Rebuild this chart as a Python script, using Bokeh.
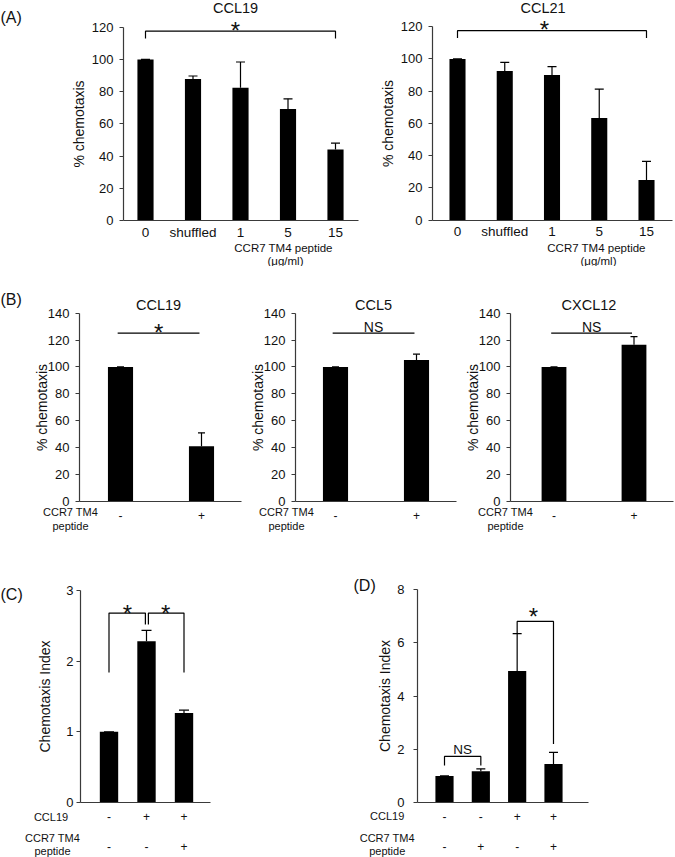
from bokeh.plotting import figure
from bokeh.layouts import column, row
from bokeh.models import (Range1d, FixedTicker, Whisker, TeeHead, ColumnDataSource,
                          Label, LinearAxis)
from bokeh.core.properties import value
from bokeh.embed import file_html
from bokeh.resources import INLINE

# ---------------- data ----------------
a_groups = ["0", "shuffled", "1", "5", "15"]
a_titles = ["CCL19", "CCL21"]
a_ccl19_vals = [100.0, 87.8, 82.4, 69.2, 44.1]
a_ccl19_errs = [0.0, 1.9, 16.0, 6.3, 3.9]
a_ccl21_vals = [100.0, 92.5, 90.0, 63.3, 24.8]
a_ccl21_errs = [0.0, 5.4, 5.2, 18.0, 11.6]
a_yticks = [0, 20, 40, 60, 80, 100, 120]
a_xtitle = ["CCR7 TM4 peptide", "(\u03bcg/ml)"]
a_sig_text = "*"
a_sig_top = 117.5
a_sig_drop = 113.0
a_sig_y = 121.7

b_groups = ["-", "+"]
b_titles = ["CCL19", "CCL5", "CXCL12"]
b_vals = [[100.0, 41.0], [100.0, 105.2], [100.0, 116.4]]
b_errs = [[0.0, 9.9], [0.0, 4.3], [0.0, 6.2]]
b_sig_text = ["*", "NS", "NS"]
b_sig_line = 125.1
b_sig_y = 130.0
b_yticks = [0, 20, 40, 60, 80, 100, 120, 140]

c_vals = [1.0, 2.28, 1.267]
c_errs = [0.0, 0.155, 0.04]
c_ccl19 = ["-", "+", "+"]
c_peptide = ["-", "-", "+"]
c_yticks = [0, 1, 2, 3]
c_sig_text = ["*", "*"]
c_sig_top = [2.68, 2.68]
c_sig_drop_left = [1.84, 2.52]
c_sig_drop_right = [2.52, 1.84]
c_sig_y = [2.76, 2.76]

d_vals = [1.0, 1.17, 4.94, 1.445]
d_errs = [0.0, 0.09, 1.4, 0.44]
d_ccl19 = ["-", "-", "+", "+"]
d_peptide = ["-", "+", "-", "+"]
d_yticks = [0, 2, 4, 6, 8]
d_sig_text = ["NS", "*"]
d_sig_top = [1.73, 6.8]
d_sig_drop_left = [1.39, 6.35]
d_sig_drop_right = [1.39, 2.2]
d_sig_y = [2.0, 7.22]

pct_label = "% chemotaxis"
ci_label = "Chemotaxis Index"
row_names = ["CCL19", "CCR7 TM4", "peptide"]

# ---------------- style ----------------
FONT = "Liberation Sans"
INK = "#111111"
AXIS = "#3a3a3a"


def to_dx(g, X):
    return 1 + (X - g["px1"]) / g["ppx"]


def to_dy(g, Y):
    return (g["py0"] - Y) / g["ppy"]


def make_panel(g, yticks, ytitle, lab_standoff, title_standoff, ylab_size):
    xr = (to_dx(g, g["ox"]), to_dx(g, g["ox"] + g["w"]))
    yr = (to_dy(g, g["oy"] + g["h"]), to_dy(g, g["oy"]))
    p = figure(width=g["w"], height=g["h"],
               x_range=Range1d(*xr), y_range=Range1d(*yr),
               output_backend="svg", toolbar_location=None,
               min_border_left=0, min_border_right=0,
               min_border_top=0, min_border_bottom=0)
    p.outline_line_color = None
    p.xgrid.grid_line_color = None
    p.ygrid.grid_line_color = None
    p.border_fill_color = "white"
    p.background_fill_color = "white"
    for ax in (p.xaxis[0], p.yaxis[0]):
        ax.axis_line_color = AXIS
        ax.axis_line_width = 1.2
        ax.major_tick_line_color = AXIS
        ax.minor_tick_line_color = None
        ax.major_label_text_font = FONT
        ax.major_label_text_color = INK
        ax.axis_label_text_font = FONT
        ax.axis_label_text_font_style = "normal"
        ax.axis_label_text_color = INK
    ya = p.yaxis[0]
    ya.fixed_location = to_dx(g, g["ax_l"])
    ya.ticker = FixedTicker(ticks=yticks)
    ya.bounds = (yticks[0], yticks[-1])
    ya.major_tick_out = 4
    ya.major_tick_in = 0
    ya.major_label_text_font_size = "13px"
    ya.major_label_standoff = lab_standoff
    ya.axis_label = ytitle
    ya.axis_label_text_font_size = ylab_size
    ya.axis_label_standoff = title_standoff
    xa = p.xaxis[0]
    xa.fixed_location = 0
    xa.bounds = (to_dx(g, g["ax_l"]), to_dx(g, g["ax_r"]))
    xa.major_tick_out = 0
    xa.major_tick_in = 0
    xa.major_tick_line_color = None
    return p


def set_x_labels(ax, labels, size, standoff):
    pos = list(range(1, len(labels) + 1))
    ax.ticker = FixedTicker(ticks=pos)
    ax.major_label_overrides = {i: t for i, t in zip(pos, labels)}
    ax.major_label_text_font_size = size
    ax.major_label_standoff = standoff


def second_row_axis(p, g, labels, standoff):
    ax = LinearAxis(axis_line_color=None, major_tick_line_color=None,
                    minor_tick_line_color=None, major_label_text_font=FONT,
                    major_label_text_color=INK, fixed_location=0,
                    bounds=(to_dx(g, g["ax_l"]), to_dx(g, g["ax_r"])))
    set_x_labels(ax, labels, "12px", standoff)
    p.add_layout(ax, "below")


def bars(p, vals, errs, width, cap):
    pos = list(range(1, len(vals) + 1))
    p.vbar(x=pos, top=vals, bottom=0, width=width, fill_color="black", line_color=None)
    src = ColumnDataSource(dict(base=pos, lower=vals,
                                upper=[v + e for v, e in zip(vals, errs)]))
    w = Whisker(base="base", lower="lower", upper="upper", source=src,
                upper_head=TeeHead(size=cap, line_color="black", line_width=1.2),
                lower_head=None, line_color="black", line_width=1.2, level="underlay")
    p.add_layout(w)


def bracket(p, x0, x1, top, d0, d1):
    p.line(x=[x0, x0, x1, x1], y=[d0, top, top, d1], line_color="black", line_width=1.2)


def sig_text(p, x, y, txt, size):
    if txt == "*":
        p.text(x=[x], y=[y], text=[txt], text_font=value(FONT), text_font_size="24px",
               text_align="center", text_baseline="middle", y_offset=6,
               text_color=INK)
    else:
        p.text(x=[x], y=[y], text=[txt], text_font=value(FONT), text_font_size=size,
               text_align="center", text_baseline="middle", text_color=INK)


def label(p, g, X, Y, txt, size, align="center"):
    p.add_layout(Label(x=to_dx(g, X), y=to_dy(g, Y), text=txt, text_font=FONT,
                       text_font_size=size, text_align=align, text_baseline="middle",
                       text_color=INK))


# ---------------- panel A ----------------
gA = [dict(ox=0, oy=0, w=365, h=266, px1=145, ppx=47.5, py0=220, ppy=1.611, ax_l=123, ax_r=358),
      dict(ox=365, oy=0, w=310, h=266, px1=457, ppx=47.25, py0=219.5, ppy=1.611, ax_l=432, ax_r=672)]
a_title_X = [235, 542.5]
a_xtitle_X = [283, 596]
a_star_x = [2.895, 2.84]
a_panels = []
for i, (vals, errs) in enumerate([(a_ccl19_vals, a_ccl19_errs), (a_ccl21_vals, a_ccl21_errs)]):
    g = gA[i]
    p = make_panel(g, a_yticks, pct_label, 6, 2, "14px")
    set_x_labels(p.xaxis[0], a_groups, "13.5px", 4)
    bars(p, vals, errs, 0.34, 9)
    bracket(p, 1, len(vals), a_sig_top, a_sig_drop, a_sig_drop)
    sig_text(p, a_star_x[i], a_sig_y, a_sig_text, "14px")
    label(p, g, a_title_X[i], 7.5, a_titles[i], "14.5px")
    label(p, g, a_xtitle_X[i], 247, a_xtitle[0], "11.5px")
    label(p, g, a_xtitle_X[i] + 2, 260.5, a_xtitle[1], "11.5px")
    if i == 0:
        label(p, g, 0, 16.7, "(A)", "16px", align="left")
    a_panels.append(p)

# ---------------- panel B ----------------
gB = [dict(ox=0, oy=266, w=243, h=279, px1=120, ppx=81, py0=500.7, ppy=1.343, ax_l=79, ax_r=241),
      dict(ox=243, oy=266, w=215, h=279, px1=335, ppx=81, py0=500.7, ppy=1.343, ax_l=295, ax_r=456),
      dict(ox=458, oy=266, w=217, h=279, px1=553.5, ppx=80, py0=500.7, ppy=1.343, ax_l=510, ax_r=673)]
b_title_X = [158, 373, 588.5]
b_head_X = [70, 286, 505]
b_panels = []
for i in range(3):
    g = gB[i]
    p = make_panel(g, b_yticks, pct_label, 6, -5, "14px")
    set_x_labels(p.xaxis[0], b_groups, "12px", 10)
    bars(p, b_vals[i], b_errs[i], 0.31, 7)
    p.line(x=[0.965, 1.975], y=[b_sig_line, b_sig_line], line_color="black", line_width=1.2)
    sig_text(p, 1.47, b_sig_y, b_sig_text[i], "14px")
    label(p, g, b_title_X[i], 304, b_titles[i], "14.5px")
    label(p, g, b_head_X[i], 511, row_names[1], "11px")
    label(p, g, b_head_X[i], 525, row_names[2], "11px")
    if i == 0:
        label(p, g, 0, 299, "(B)", "16px", align="left")
    b_panels.append(p)

# ---------------- panel C ----------------
gC = dict(ox=0, oy=545, w=340, h=312, px1=108.5, ppx=37.5, py0=802, ppy=70.67, ax_l=80, ax_r=210)
pc = make_panel(gC, c_yticks, ci_label, 3, 10, "14px")
set_x_labels(pc.xaxis[0], c_ccl19, "12px", 9)
second_row_axis(pc, gC, c_peptide, 33)
bars(pc, c_vals, c_errs, 0.49, 10)
c_bx = [(1, 1.97), (2.05, 3)]
c_sx = [1.49, 2.51]
for k in range(2):
    bracket(pc, c_bx[k][0], c_bx[k][1], c_sig_top[k], c_sig_drop_left[k], c_sig_drop_right[k])
    sig_text(pc, c_sx[k], c_sig_y[k], c_sig_text[k], "14px")
label(pc, gC, 0, 593.5, "(C)", "16px", align="left")
label(pc, gC, 50.5, 816, row_names[0], "11px")
label(pc, gC, 52, 837, row_names[1], "11px")
label(pc, gC, 52, 850, row_names[2], "11px")

# ---------------- panel D ----------------
gD = dict(ox=340, oy=545, w=335, h=312, px1=444, ppx=36.33, py0=802, ppy=26.625, ax_l=417, ax_r=588)
pd_ = make_panel(gD, d_yticks, ci_label, 9, 1, "14px")
set_x_labels(pd_.xaxis[0], d_ccl19, "12px", 9)
second_row_axis(pd_, gD, d_peptide, 33)
bars(pd_, d_vals, d_errs, 0.5, 9)
d_bx = [(1, 2), (3, 4)]
d_sx = [1.5, 3.45]
for k in range(2):
    bracket(pd_, d_bx[k][0], d_bx[k][1], d_sig_top[k], d_sig_drop_left[k], d_sig_drop_right[k])
    sig_text(pd_, d_sx[k], d_sig_y[k], d_sig_text[k], "13.5px")
label(pd_, gD, 353, 585, "(D)", "16px", align="left")
label(pd_, gD, 386.7, 815, row_names[0], "11px")
label(pd_, gD, 386.7, 837, row_names[1], "11px")
label(pd_, gD, 386.7, 850, row_names[2], "11px")

layout = column(row(*a_panels), row(*b_panels), row(pc, pd_))
open("out.html", "w").write(file_html(layout, INLINE))
